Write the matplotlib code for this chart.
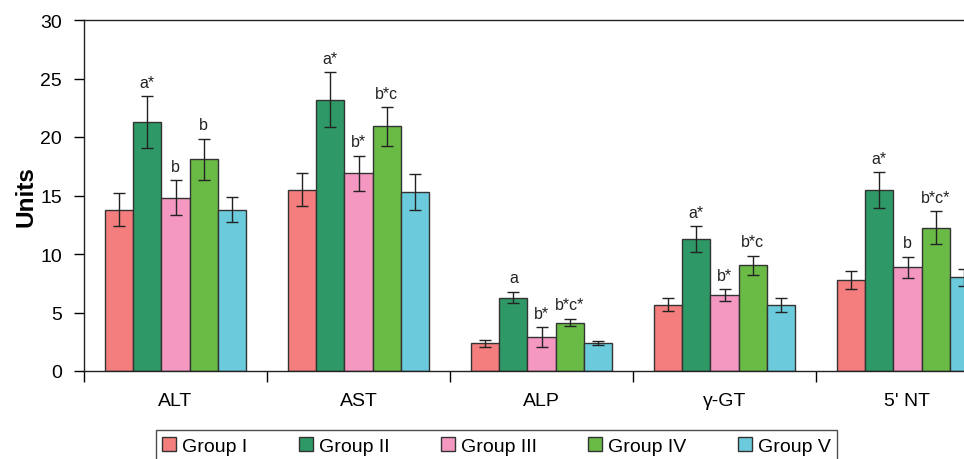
import matplotlib
matplotlib.use("Agg")
import matplotlib.pyplot as plt
import numpy as np

plt.rcParams['font.family'] = ['Liberation Sans', 'DejaVu Sans']

categories = ["ALT", "AST", "ALP", "γ-GT", "5' NT"]
groups = ["Group I", "Group II", "Group III", "Group IV", "Group V"]
colors = ["#F47E7E", "#2E9966", "#F498C2", "#6ABB46", "#6BCBDC"]

means = {
    "Group I":   [13.8, 15.5, 2.37, 5.68, 7.8],
    "Group II":  [21.3, 23.2, 6.27, 11.27, 15.46],
    "Group III": [14.8, 16.9, 2.9, 6.5, 8.85],
    "Group IV":  [18.1, 20.9, 4.14, 9.04, 12.24],
    "Group V":   [13.8, 15.3, 2.4, 5.65, 8.0],
}
errors = {
    "Group I":   [1.4, 1.4, 0.3, 0.58, 0.78],
    "Group II":  [2.2, 2.35, 0.5, 1.1, 1.55],
    "Group III": [1.5, 1.5, 0.85, 0.5, 0.9],
    "Group IV":  [1.75, 1.65, 0.33, 0.8, 1.4],
    "Group V":   [1.1, 1.55, 0.18, 0.6, 0.75],
}
labels = {
    "Group II":  ["a*", "a*", "a", "a*", "a*"],
    "Group III": ["b", "b*", "b*", "b*", "b"],
    "Group IV":  ["b", "b*c", "b*c*", "b*c", "b*c*"],
}

fig = plt.figure(figsize=(9.64, 4.6), dpi=100)
ax = fig.add_axes([84/964, 88/460, (999-84)/964, (372-21)/460])

x = np.arange(len(categories))
w = 0.1536
handles = []
for i, g in enumerate(groups):
    pos = x + (i - 2) * w
    b = ax.bar(pos, means[g], width=w, color=colors[i], edgecolor="#333333",
               linewidth=1.0, yerr=errors[g], capsize=4.5,
               error_kw=dict(ecolor="#222222", elinewidth=1.0, capthick=1.0),
               label=g, zorder=2)
    handles.append(b)
    if g in labels:
        for p, m, e, t in zip(pos, means[g], errors[g], labels[g]):
            ax.text(p, m + e + 0.55, t, ha="center", va="bottom", fontsize=11.5, color="#222222")

ax.set_xlim(-0.5, 4.5)
ax.set_ylim(0, 30)
ax.set_yticks(np.arange(0, 31, 5))
ax.set_xticks(x)
ax.set_xticklabels(categories, fontsize=14)
ax.set_xticks(np.arange(-0.5, 4.6, 1.0), minor=True)
ax.tick_params(axis="x", which="major", length=0, pad=15)
ax.tick_params(axis="x", which="minor", length=8, width=1.0, direction="out")
ax.tick_params(axis="y", labelsize=14, length=7, width=1.0, direction="out", pad=9)
for s in ax.spines.values():
    s.set_linewidth(1.0)
    s.set_color("#222222")
ax.set_ylabel("Units", fontsize=17.5, fontweight="bold", labelpad=2)

leg = fig.legend(handles=handles, labels=groups, loc="upper center",
                 bbox_to_anchor=(496.5/964, 1 - 431/460), ncol=5, fontsize=14,
                 frameon=True, fancybox=False, edgecolor="#222222",
                 handlelength=0.72, handleheight=0.72, handletextpad=0.3,
                 columnspacing=2.65, borderpad=0.35, borderaxespad=0)
leg.get_frame().set_linewidth(1.0)

fig.savefig("out.png", dpi=100)
